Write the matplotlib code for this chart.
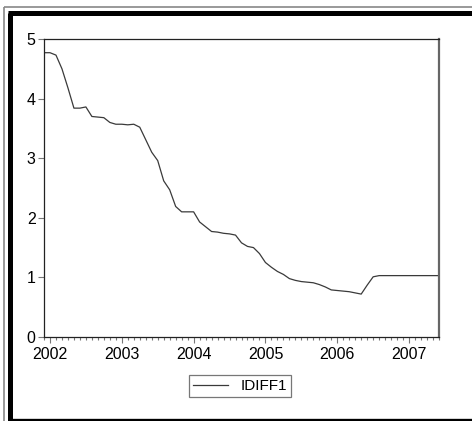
import matplotlib
matplotlib.use("Agg")
import matplotlib.pyplot as plt
from matplotlib.lines import Line2D
from matplotlib.ticker import MultipleLocator

plt.rcParams["font.family"] = ["Liberation Sans", "DejaVu Sans"]

# monthly series, 2001M12 .. 2007M06
start_year = 2001
start_month = 12
idiff1 = [
    4.77, 4.77, 4.73, 4.50, 4.18, 3.84, 3.84, 3.86, 3.70, 3.69,
    3.68, 3.60, 3.57, 3.57, 3.56, 3.57, 3.52, 3.31, 3.10, 2.96,
    2.62, 2.47, 2.19, 2.10, 2.10, 2.10, 1.93, 1.85, 1.77, 1.76,
    1.74, 1.73, 1.71, 1.58, 1.52, 1.50, 1.40, 1.25, 1.17, 1.10,
    1.05, 0.98, 0.95, 0.93, 0.92, 0.91, 0.88, 0.84, 0.79, 0.78,
    0.77, 0.76, 0.74, 0.72, 0.87, 1.01, 1.03, 1.03, 1.03, 1.03,
    1.03, 1.03, 1.03, 1.03, 1.03, 1.03, 1.03,
]
years = [2002, 2003, 2004, 2005, 2006, 2007]
yticks = [0, 1, 2, 3, 4, 5]

t = [start_year + (start_month - 1) / 12 + i / 12 for i in range(len(idiff1))]

fig = plt.figure(figsize=(4.72, 4.21), dpi=100)
ax = fig.add_axes([44 / 472, 1 - 337 / 421, (439 - 44) / 472, (337 - 39) / 421])

ax.plot(t, idiff1, color="#3a3a3a", lw=0.9, label="IDIFF1")

ax.set_xlim(t[0], t[-1])
ax.set_ylim(0, 5)
ax.set_xticks(years)
ax.set_xticklabels([str(y) for y in years])
ax.xaxis.set_minor_locator(MultipleLocator(1 / 12))
ax.set_yticks(yticks)

ax.tick_params(axis="x", which="major", direction="out", length=4.5, width=0.8,
               color="#777777", labelsize=11.5, pad=2.5)
ax.tick_params(axis="x", which="minor", direction="out", length=2.3, width=0.8,
               color="#777777")
ax.tick_params(axis="y", which="major", direction="out", length=4, width=0.8,
               color="#777777", labelsize=11.5, pad=2)

for side in ["left", "bottom", "top"]:
    ax.spines[side].set_color("#222222")
    ax.spines[side].set_linewidth(0.9)
ax.spines["right"].set_color("#666666")
ax.spines["right"].set_linewidth(1.6)

leg = ax.legend(loc="center", bbox_to_anchor=(240 / 472, 1 - 386 / 421),
                bbox_transform=fig.transFigure, frameon=True, fancybox=False,
                fontsize=11, handlelength=2.3, handletextpad=0.8,
                borderpad=0.25, borderaxespad=0)
leg.get_frame().set_edgecolor("#555555")
leg.get_frame().set_linewidth(0.9)

# window frame (thin gray outer line and thick black inner line)
W, H = 472, 421
def px(x, y):
    return x / W, 1 - y / H

def frame_line(x0, y0, x1, y1, color, lw):
    a = px(x0, y0)
    b = px(x1, y1)
    fig.add_artist(Line2D([a[0], b[0]], [a[1], b[1]], color=color, lw=lw,
                          transform=fig.transFigure, solid_capstyle="butt"))

frame_line(4, 7, 4, 421, "#888888", 1.2)
frame_line(4, 7, 472, 7, "#888888", 1.2)
frame_line(10, 12.5, 10, 421, "black", 3.6)
frame_line(8, 12.5, 472, 12.5, "black", 3.6)
frame_line(8, 419.5, 472, 419.5, "black", 2.4)

fig.savefig("out.png", dpi=100)
